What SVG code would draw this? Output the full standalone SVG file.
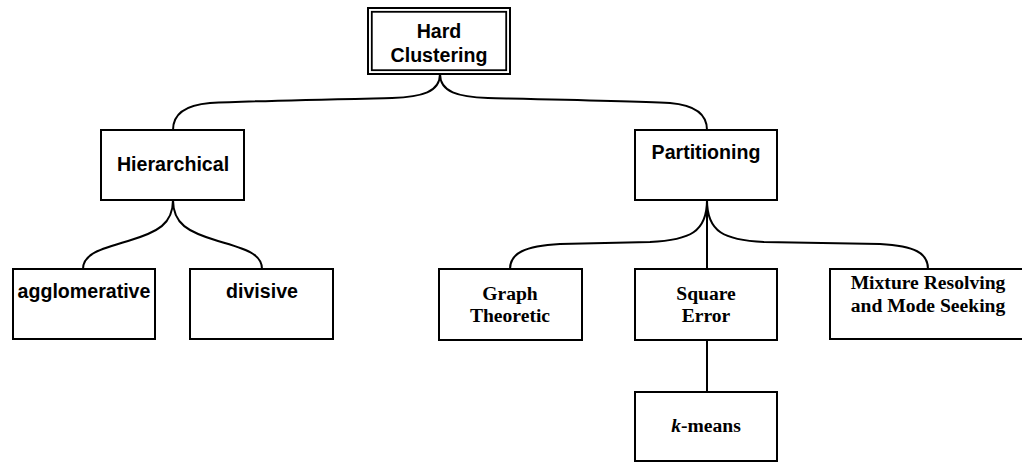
<svg xmlns="http://www.w3.org/2000/svg" width="1022" height="462" viewBox="0 0 1022 462">
<style>
.box{fill:#fff;stroke:#000;stroke-width:2}
.thin{fill:none;stroke:#000;stroke-width:1.8}
.edge{fill:none;stroke:#000;stroke-width:2}
.sans{font-family:"Liberation Sans",Arial,sans-serif;font-weight:bold;font-size:19.6px;text-anchor:middle;fill:#000}
.serif{font-family:"Liberation Serif","Times New Roman",serif;font-weight:bold;font-size:19.6px;text-anchor:middle;fill:#000}
</style>
<rect width="1022" height="462" fill="#fff"/>
<g id="connectors">
<path class="edge" d="M440,74 C440,92 422,97 392,98 C300,100 250,101 210,103 C186,105 173,113 173,130"/>
<path class="edge" d="M440,74 C440,92 458,97 488,98 C580,100 630,101 670,103 C694,105 707,113 707,130"/>
<path class="edge" d="M173,200 C173,224 158,232 128,241 C100,249 83,254 83,269"/>
<path class="edge" d="M173,200 C173,224 188,232 218,241 C246,249 262,254 262,269"/>
<path class="edge" d="M707,200 C707,232 690,240 650,242 L560,244 C525,246 510,253 510,269"/>
<path class="edge" d="M707,200 L707,269"/>
<path class="edge" d="M707,200 C707,232 724,240 764,242 L880,244 C915,246 928,253 928,269"/>
<path class="edge" d="M707,340 L707,392"/>
</g>
<g id="hard-clustering">
<rect class="box" x="368" y="8" width="142" height="66"/>
<rect class="thin" x="371.8" y="11.8" width="134.4" height="58.4"/>
<text class="sans" x="439" y="38">Hard</text>
<text class="sans" x="439" y="62">Clustering</text>
</g>
<g id="hierarchical">
<rect class="box" x="101" y="130" width="143" height="70"/>
<text class="sans" x="173" y="171">Hierarchical</text>
</g>
<g id="partitioning">
<rect class="box" x="635" y="130" width="142" height="70"/>
<text class="sans" x="706" y="159">Partitioning</text>
</g>
<g id="agglomerative">
<rect class="box" x="13" y="269" width="142" height="70"/>
<text class="sans" x="84" y="298">agglomerative</text>
</g>
<g id="divisive">
<rect class="box" x="190" y="269" width="143" height="70"/>
<text class="sans" x="262" y="298">divisive</text>
</g>
<g id="graph-theoretic">
<rect class="box" x="439" y="269" width="143" height="71"/>
<text class="serif" x="510" y="300">Graph</text>
<text class="serif" x="510" y="322">Theoretic</text>
</g>
<g id="square-error">
<rect class="box" x="635" y="269" width="142" height="71"/>
<text class="serif" x="706" y="300">Square</text>
<text class="serif" x="706" y="322">Error</text>
</g>
<g id="mixture">
<rect class="box" x="830" y="269" width="200" height="70"/>
<text class="serif" x="928" y="289">Mixture Resolving</text>
<text class="serif" x="928" y="312">and Mode Seeking</text>
</g>
<g id="k-means">
<rect class="box" x="635" y="392" width="142" height="69"/>
<text class="serif" x="706" y="432"><tspan font-style="italic">k</tspan>-means</text>
</g>
</svg>
